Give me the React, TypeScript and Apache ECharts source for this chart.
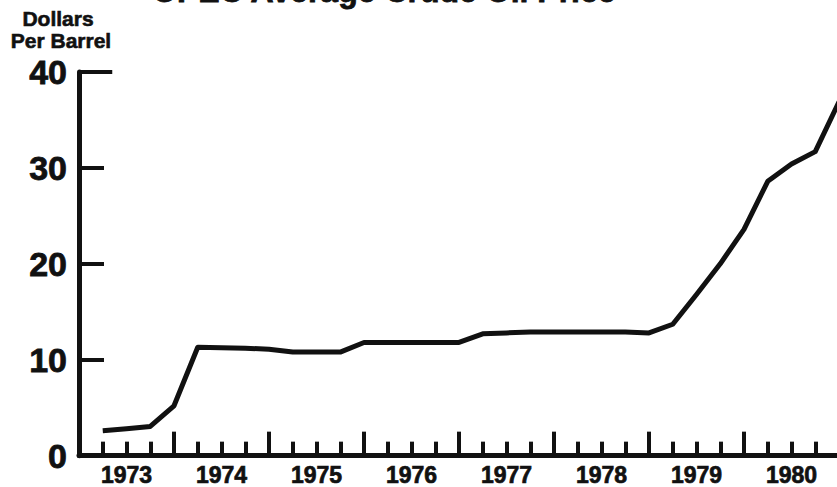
import React, { useEffect, useRef } from "react";
import * as echarts from "echarts";

const titleText = "OPEC Average Crude Oil Price";
const unitLines = ["Dollars", "Per Barrel"];

const yearLabels = ["1973", "1974", "1975", "1976", "1977", "1978", "1979", "1980"];

const quarters = [
  1973.25, 1973.5, 1973.75, 1974, 1974.25, 1974.5, 1974.75, 1975,
  1975.25, 1975.5, 1975.75, 1976, 1976.25, 1976.5, 1976.75, 1977,
  1977.25, 1977.5, 1977.75, 1978, 1978.25, 1978.5, 1978.75, 1979,
  1979.25, 1979.5, 1979.75, 1980, 1980.25, 1980.5, 1980.75, 1981,
];

const prices = [
  2.6, 2.8, 3.05, 5.2, 11.3, 11.25, 11.2, 11.1,
  10.8, 10.8, 10.8, 11.8, 11.8, 11.8, 11.8, 11.8,
  12.7, 12.8, 12.9, 12.9, 12.9, 12.9, 12.9, 12.8,
  13.7, 16.8, 20.0, 23.6, 28.6, 30.4, 31.7, 36.9,
];

const yMin = 0;
const yMax = 40;
const yStep = 10;

const INK = "#111";
const FONT = "'Liberation Sans', Arial, Helvetica, sans-serif";

export default function App() {
  const ref = useRef<HTMLDivElement>(null);

  useEffect(() => {
    if (!ref.current) return;
    const chart = echarts.init(ref.current, undefined, { renderer: "svg" });
    const xMin = Number(yearLabels[0]);
    const xMax = Number(yearLabels[yearLabels.length - 1]) + 1;

    const unitStyle = {
      align: "center",
      verticalAlign: "top",
      fontFamily: FONT,
      fontSize: 21,
      fontWeight: "bold",
      fill: INK,
      stroke: INK,
      lineWidth: 0.6,
    };

    chart.setOption({
      animation: false,
      backgroundColor: "#fff",
      title: {
        text: titleText,
        left: 147,
        top: -30,
        textStyle: {
          fontFamily: FONT,
          fontSize: 32,
          fontWeight: "bold",
          color: INK,
          textBorderColor: INK,
          textBorderWidth: 0.8,
        },
      },
      graphic: [
        { type: "text", x: 58, y: 8, style: { ...unitStyle, text: unitLines[0] } },
        { type: "text", x: 61, y: 30, style: { ...unitStyle, text: unitLines[1] } },
      ],
      grid: { left: 79, right: 0, top: 72, bottom: 31, containLabel: false },
      xAxis: [
        {
          type: "value",
          min: xMin,
          max: xMax,
          interval: 1,
          position: "bottom",
          axisLine: { show: true, onZero: false, lineStyle: { color: INK, width: 5 } },
          axisTick: { show: true, inside: true, length: 24, lineStyle: { color: INK, width: 4 } },
          minorTick: { show: true, splitNumber: 4, length: 14, lineStyle: { color: INK, width: 4 } },
          axisLabel: { show: false },
          splitLine: { show: false },
          minorSplitLine: { show: false },
        },
        {
          type: "value",
          min: xMin,
          max: xMax,
          interval: 0.5,
          position: "bottom",
          axisLine: { show: false, onZero: false },
          axisTick: { show: false },
          splitLine: { show: false },
          axisLabel: {
            show: true,
            margin: 8,
            color: INK,
            fontFamily: FONT,
            fontSize: 23,
            fontWeight: "bold",
            textBorderColor: INK,
            textBorderWidth: 0.7,
            formatter: (v: number) => {
              const yr = Math.floor(v);
              if (Math.abs(v - yr - 0.5) < 1e-6) {
                return yearLabels[yr - xMin] ?? "";
              }
              return "";
            },
          },
        },
      ],
      yAxis: {
        type: "value",
        min: yMin,
        max: yMax,
        interval: yStep,
        axisLine: { show: true, lineStyle: { color: INK, width: 5 } },
        axisTick: { show: true, inside: true, length: 25, lineStyle: { color: INK, width: 4 } },
        axisLabel: {
          margin: 12,
          color: INK,
          fontFamily: FONT,
          fontSize: 34,
          fontWeight: "bold",
          textBorderColor: INK,
          textBorderWidth: 0.8,
        },
        splitLine: { show: false },
      },
      series: [
        {
          type: "line",
          xAxisIndex: 0,
          data: quarters.map((q, i) => [q, prices[i]]),
          symbol: "none",
          clip: true,
          lineStyle: { color: INK, width: 5, join: "round" },
          markLine: {
            silent: true,
            symbol: ["none", "none"],
            label: { show: false },
            lineStyle: { color: INK, width: 4, type: "solid" },
            data: [[{ coord: [xMin, yMax] }, { coord: [xMin + 0.35, yMax] }]],
          },
        },
      ],
    });

    return () => chart.dispose();
  }, []);

  return (
    <div
      style={{
        position: "fixed",
        left: 0,
        top: 0,
        width: 837,
        height: 487,
        overflow: "hidden",
        background: "#fff",
      }}
    >
      <div ref={ref} style={{ width: 842, height: 487 }} />
    </div>
  );
}
